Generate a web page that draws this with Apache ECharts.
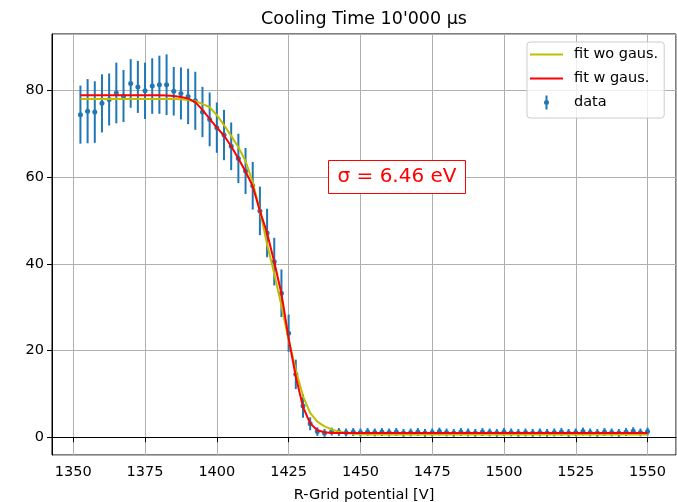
<!DOCTYPE html>
<html>
<head>
<meta charset="utf-8">
<script src="https://cdn.jsdelivr.net/npm/echarts@6/dist/echarts.min.js"></script>
<style>
  html, body { margin: 0; padding: 0; background: #fff; }
  #main { width: 677px; height: 502px; }
</style>
</head>
<body>
<div id="main"></div>
<script>
var font = 'DejaVu Sans';

// R-grid potential [V]
var voltage = [1352.5, 1355, 1357.5, 1360, 1362.5, 1365, 1367.5, 1370, 1372.5, 1375,
    1377.5, 1380, 1382.5, 1385, 1387.5, 1390, 1392.5, 1395, 1397.5, 1400,
    1402.5, 1405, 1407.5, 1410, 1412.5, 1415, 1417.5, 1420, 1422.5, 1425,
    1427.5, 1430, 1432.5, 1435, 1437.5, 1440, 1442.5, 1445, 1447.5, 1450,
    1452.5, 1455, 1457.5, 1460, 1462.5, 1465, 1467.5, 1470, 1472.5, 1475,
    1477.5, 1480, 1482.5, 1485, 1487.5, 1490, 1492.5, 1495, 1497.5, 1500,
    1502.5, 1505, 1507.5, 1510, 1512.5, 1515, 1517.5, 1520, 1522.5, 1525,
    1527.5, 1530, 1532.5, 1535, 1537.5, 1540, 1542.5, 1545, 1547.5, 1550];

// measured data
var counts = [74.4, 75.2, 75.0, 77.0, 77.9, 79.4, 78.7, 81.6, 80.8, 79.9,
    81.0, 81.3, 81.3, 79.8, 79.3, 78.6, 77.6, 75.0, 73.3, 71.4,
    69.7, 67.1, 64.3, 61.4, 58.0, 52.2, 47.1, 40.5, 33.2, 24.0,
    14.5, 7.2, 3.1, 1.3, 1.0, 1.3, 1.2, 1.1, 1.2, 1.1,
    1.2, 1.1, 1.2, 1.1, 1.2, 1.0, 1.1, 1.2, 1.0, 1.1,
    1.3, 1.1, 1.0, 1.2, 1.1, 1.0, 1.2, 1.1, 1.0, 1.2,
    1.1, 1.0, 1.1, 1.0, 1.1, 1.0, 1.1, 1.2, 1.0, 1.1,
    1.3, 1.1, 1.0, 1.2, 1.1, 1.0, 1.2, 1.4, 1.1, 1.3];
var countErr = [6.7, 7.4, 7.1, 6.7, 6.0, 7.0, 6.0, 5.6, 6.0, 6.5,
    6.4, 6.7, 7.0, 5.6, 6.0, 6.4, 6.7, 5.8, 6.2, 5.8,
    5.8, 5.5, 5.7, 5.3, 5.5, 5.6, 5.6, 5.5, 5.5, 4.3,
    3.4, 2.7, 1.5, 1.0, 0.9, 0.9, 0.9, 0.9, 0.9, 0.9,
    0.9, 0.9, 0.9, 0.9, 0.9, 0.9, 0.9, 0.9, 0.9, 0.9,
    0.9, 0.9, 0.9, 0.9, 0.9, 0.9, 0.9, 0.9, 0.9, 0.9,
    0.9, 0.9, 0.9, 0.9, 0.9, 0.9, 0.9, 0.9, 0.9, 0.9,
    0.9, 0.9, 0.9, 0.9, 0.9, 0.9, 0.9, 0.9, 0.9, 0.9];

// fit curves
var fitWoGaus = [78.0, 78.0, 78.0, 78.0, 78.0, 78.0, 78.0, 78.0, 78.0, 78.0,
    78.0, 78.0, 78.0, 78.0, 77.95, 77.8, 77.5, 76.9, 76.1, 74.3,
    72.0, 69.5, 66.9, 63.7, 58.8, 52.3, 44.5, 37.7, 30.3, 22.5,
    15.5, 9.5, 5.6, 3.6, 2.5, 1.8, 1.3, 1.0, 0.8, 0.7,
    0.65, 0.65, 0.65, 0.65, 0.65, 0.65, 0.65, 0.65, 0.65, 0.65,
    0.65, 0.65, 0.65, 0.65, 0.65, 0.65, 0.65, 0.65, 0.65, 0.65,
    0.65, 0.65, 0.65, 0.65, 0.65, 0.65, 0.65, 0.65, 0.65, 0.65,
    0.65, 0.65, 0.65, 0.65, 0.65, 0.65, 0.65, 0.65, 0.65, 0.65];
var fitWGaus = [78.9, 78.9, 78.9, 78.9, 78.9, 78.9, 78.9, 78.9, 78.9, 78.9,
    78.9, 78.85, 78.8, 78.7, 78.45, 78.1, 77.3, 75.5, 73.4, 71.4,
    69.6, 67.1, 64.3, 61.3, 57.9, 52.2, 47.1, 40.4, 33.1, 22.8,
    14.0, 7.0, 3.2, 1.6, 1.15, 1.0, 1.0, 1.0, 1.0, 1.0,
    1.0, 1.0, 1.0, 1.0, 1.0, 1.0, 1.0, 1.0, 1.0, 1.0,
    1.0, 1.0, 1.0, 1.0, 1.0, 1.0, 1.0, 1.0, 1.0, 1.0,
    1.0, 1.0, 1.0, 1.0, 1.0, 1.0, 1.0, 1.0, 1.0, 1.0,
    1.0, 1.0, 1.0, 1.0, 1.0, 1.0, 1.0, 1.0, 1.0, 1.0];

var sigmaText = 'σ = 6.46 eV';

var chart = echarts.init(document.getElementById('main'));

function pairs(ys) {
    return voltage.map(function (v, i) { return [v, ys[i]]; });
}

var option = {
    animation: false,
    title: {
        text: "Cooling Time 10'000 µs",
        left: 364,
        top: 10,
        padding: 0,
        textAlign: 'center',
        textStyle: { fontFamily: font, fontSize: 17.5, fontWeight: 'normal', color: '#000' }
    },
    grid: {
        left: 52, right: 1, top: 34, bottom: 47,
        outerBoundsMode: 'none',
        containLabel: false,
        show: true, borderColor: '#000', borderWidth: 1, backgroundColor: 'transparent'
    },
    legend: {
        orient: 'vertical',
        left: 527,
        top: 42,
        padding: [5, 6, 8, 3],
        itemWidth: 33,
        itemHeight: 14,
        itemGap: 9,
        borderColor: '#cccccc',
        borderWidth: 1,
        borderRadius: 3,
        backgroundColor: 'rgba(255,255,255,0.8)',
        selectedMode: false,
        textStyle: { fontFamily: font, fontSize: 14.5, color: '#000', padding: [0, 0, 0, 6] },
        data: [
            { name: 'fit wo gaus.', icon: 'path://M0,0 L33,0 L33,2 L0,2 Z' },
            { name: 'fit w gaus.', icon: 'path://M0,0 L33,0 L33,2 L0,2 Z' },
            { name: 'data', icon: 'path://M1.5,0 L3.5,0 L3.5,14 L1.5,14 Z M0,7 A2.5,2.5 0 0 1 5,7 A2.5,2.5 0 0 1 0,7 Z' }
        ]
    },
    xAxis: {
        type: 'value',
        min: 1342.6,
        max: 1559.9,
        minInterval: 25,
        maxInterval: 25,
        name: 'R-Grid potential [V]',
        nameLocation: 'middle',
        nameGap: 33,
        nameTextStyle: { fontFamily: font, fontSize: 14.5, color: '#000' },
        axisLine: { show: true, lineStyle: { color: '#000', width: 1 } },
        axisTick: { show: true, length: 5, lineStyle: { color: '#000', width: 1 } },
        axisLabel: { fontFamily: font, fontSize: 14.5, color: '#000', margin: 10,
            showMinLabel: false, showMaxLabel: false,
            formatter: function (v) { return String(v); } },
        splitLine: { show: true, lineStyle: { color: '#b0b0b0', width: 1 } }
    },
    yAxis: {
        type: 'value',
        min: -4.1,
        max: 93.0,
        minInterval: 20,
        maxInterval: 20,
        axisLine: { show: true, lineStyle: { color: '#000', width: 1 } },
        axisTick: { show: true, length: 5, lineStyle: { color: '#000', width: 1 } },
        axisLabel: { fontFamily: font, fontSize: 14.5, color: '#000', margin: 8,
            showMinLabel: false, showMaxLabel: false },
        splitLine: { show: true, lineStyle: { color: '#b0b0b0', width: 1 } }
    },
    series: [
        {
            name: 'fit wo gaus.',
            type: 'line',
            data: pairs(fitWoGaus),
            symbol: 'none',
            color: '#bfbf00',
            lineStyle: { color: '#bfbf00', width: 2 },
            z: 3
        },
        {
            name: 'fit w gaus.',
            type: 'line',
            data: pairs(fitWGaus),
            symbol: 'none',
            color: '#ff0000',
            lineStyle: { color: '#ff0000', width: 2 },
            z: 4
        },
        {
            name: 'data',
            type: 'custom',
            color: '#1f77b4',
            itemStyle: { color: '#1f77b4' },
            encode: { x: 0, y: 1 },
            data: voltage.map(function (v, i) { return [v, counts[i], countErr[i]]; }),
            renderItem: function (params, api) {
                var x = api.value(0), y = api.value(1), e = api.value(2);
                var top = api.coord([x, y + e]);
                var bot = api.coord([x, y - e]);
                var c = api.coord([x, y]);
                return {
                    type: 'group',
                    children: [
                        { type: 'line', shape: { x1: top[0], y1: top[1], x2: bot[0], y2: bot[1] },
                          style: { stroke: '#1f77b4', lineWidth: 2 } },
                        { type: 'circle', shape: { cx: c[0], cy: c[1], r: 2.5 },
                          style: { fill: '#1f77b4' } }
                    ]
                };
            },
            z: 2
        }
    ],
    graphic: [
        {
            type: 'group',
            left: 328,
            top: 160,
            z: 100,
            children: [
                { type: 'rect', z: 100, shape: { x: 0.5, y: 0.5, width: 137, height: 33 },
                  style: { fill: '#fff', stroke: '#ff0000', lineWidth: 1 } },
                { type: 'text', z: 101, x: 69, y: 17,
                  style: { text: sigmaText, fill: '#ff0000', font: '20px "DejaVu Sans"',
                           align: 'center', verticalAlign: 'middle' } }
            ]
        }
    ]
};
chart.setOption(option);
</script>
</body>
</html>
